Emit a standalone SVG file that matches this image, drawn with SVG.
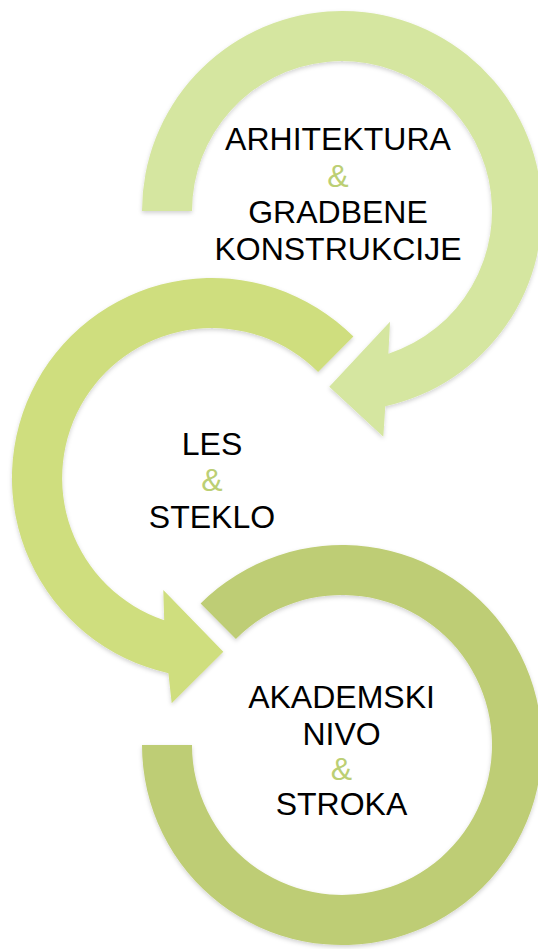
<svg xmlns="http://www.w3.org/2000/svg" width="538" height="949" viewBox="0 0 538 949">
  <defs>
    <filter id="sh" x="-10%" y="-10%" width="120%" height="120%">
      <feDropShadow dx="0" dy="2" stdDeviation="2" flood-color="#000" flood-opacity="0.18"/>
    </filter>
    <style>
      .lbl { font-family: "Liberation Sans", Arial, sans-serif; font-size: 32px; fill: #000; text-anchor: middle; }
      .amp { fill: #bccf74; }
      .ring { filter: url(#sh); stroke: none; }
    </style>
  </defs>
  <rect width="538" height="949" fill="#ffffff"/>
  <g id="connectors"/>
  <g id="node-arhitektura">
    <path class="ring" fill="#d5e6a0" d="M142,211 A200,200 0 1 1 385.3,406.3 L383.3,436.7 L329.3,386.7 L390,321.7 L388.4,353.7 A150,150 0 1 0 192,211 Z"/>
    <text class="lbl" x="338" y="150">ARHITEKTURA</text>
    <text class="lbl amp" x="338" y="187">&amp;</text>
    <text class="lbl" x="338" y="223">GRADBENE</text>
    <text class="lbl" x="338" y="260">KONSTRUKCIJE</text>
  </g>
  <g id="node-les">
    <path class="ring" fill="#cfde7e" d="M353.4,336.6 A200,200 0 1 0 168.4,673.2 L171.7,703.3 L223.3,651.7 L163.3,590 L164.2,620.2 A150,150 0 1 1 318.1,371.9 Z"/>
    <text class="lbl" x="212" y="455">LES</text>
    <text class="lbl amp" x="212" y="491">&amp;</text>
    <text class="lbl" x="212" y="528">STEKLO</text>
  </g>
  <g id="node-akademski">
    <path class="ring" fill="#becd74" d="M142,745 A200,200 0 1 0 200.6,603.6 L235.9,638.9 A150,150 0 1 1 192,745 Z"/>
    <text class="lbl" x="341.5" y="708">AKADEMSKI</text>
    <text class="lbl" x="341.5" y="745">NIVO</text>
    <text class="lbl amp" x="341.5" y="780">&amp;</text>
    <text class="lbl" x="341.5" y="815">STROKA</text>
  </g>
</svg>
